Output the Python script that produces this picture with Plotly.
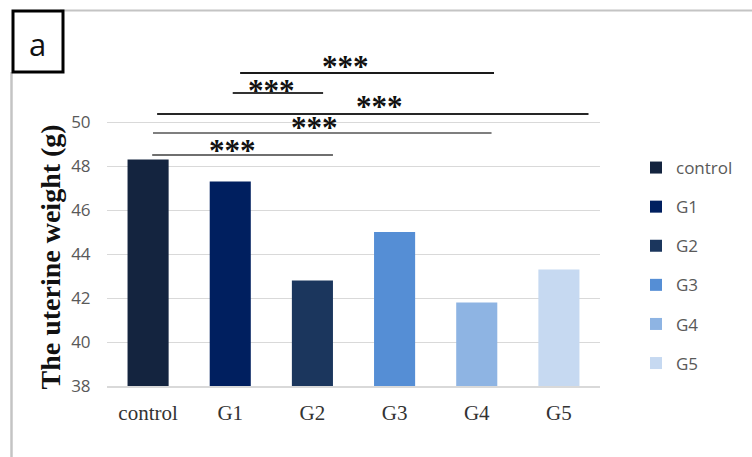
import plotly.graph_objects as go

# Uterine weight per group (g)
groups = ["control", "G1", "G2", "G3", "G4", "G5"]
weights = [48.3, 47.3, 42.8, 45.0, 41.8, 43.3]
bar_colors = ["#14243f", "#001f5f", "#1b365d", "#558ed5", "#8eb4e3", "#c6d9f1"]

y_ticks = [38, 40, 42, 44, 46, 48, 50]
y_title = "The uterine weight (g)"

# Significance comparisons (group pairs) and their labels
sig_pairs = [("G1", "G4"), ("G1", "G2"), ("control", "G5"), ("control", "G4"), ("control", "G2")]
sig_labels = ["***", "***", "***", "***", "***"]
# bracket geometry: left/right offsets from the group positions, bracket height,
# label position (x, y) and line colour
sig_geom = [
    (0.12, 0.21, 52.23, 2.40, 52.70, "#1a1a1a"),
    (0.03, 0.13, 51.32, 1.50, 51.58, "#333333"),
    (0.11, 0.36, 50.36, 2.82, 50.88, "#262626"),
    (0.06, 0.18, 49.50, 2.02, 49.91, "#7f7f7f"),
    (0.05, 0.25, 48.50, 1.03, 48.88, "#6f6f6f"),
]

# plot area in pixels (for decoration placement)
W, H = 752, 457
L, R, T, B = 107, 600, 56, 386


def px(x):
    return (x - L) / (R - L)


def py(y):
    return (B - y) / (B - T)


fig = go.Figure()
for g, w, c in zip(groups, weights, bar_colors):
    fig.add_trace(go.Bar(
        x=[g], y=[w], name=g, marker=dict(color=c, line=dict(width=0)),
        width=0.5, legendgroup=g,
    ))

shapes = []
annotations = []
for (a, b), lab, (o0, o1, yh, xl, yl, col) in zip(sig_pairs, sig_labels, sig_geom):
    i0, i1 = groups.index(a), groups.index(b)
    shapes.append(dict(type="line", xref="x", yref="y", x0=i0 + o0, x1=i1 + o1,
                       y0=yh, y1=yh, line=dict(color=col, width=2)))
    annotations.append(dict(x=xl, y=yl, xref="x", yref="y", text=f"<b>{lab}</b>",
                            showarrow=False, yanchor="bottom", yshift=-23,
                            font=dict(family="Liberation Serif", size=31, color="#111111")))

# frame around the panel
shapes.append(dict(type="line", xref="paper", yref="paper", x0=px(60), x1=px(W), y0=py(10.5), y1=py(10.5),
                   line=dict(color="#c4c4c4", width=2)))
shapes.append(dict(type="line", xref="paper", yref="paper", x0=px(11.5), x1=px(11.5), y0=py(72), y1=py(H),
                   line=dict(color="#c4c4c4", width=2.5)))
shapes.append(dict(type="rect", xref="paper", yref="paper", x0=px(13), x1=px(63), y0=py(72), y1=py(11),
                   line=dict(color="#000000", width=3), fillcolor="white"))
annotations.append(dict(x=px(37), y=py(44), xref="paper", yref="paper", text="a", showarrow=False,
                        xanchor="center", yanchor="middle",
                        font=dict(family="Open Sans", size=31, color="#111111")))

# y-axis title, centred on the gridded range
annotations.append(dict(x=px(50), y=py(257.5), xref="paper", yref="paper", text=f"<b>{y_title}</b>",
                        textangle=-90, showarrow=False, xanchor="center", yanchor="middle",
                        font=dict(family="Liberation Serif", size=28, color="#111111")))

fig.update_layout(
    width=W, height=H,
    margin=dict(l=L, r=W - R, t=T, b=H - B, autoexpand=False),
    paper_bgcolor="white", plot_bgcolor="white",
    barmode="overlay",
    showlegend=True,
    legend=dict(x=px(636), y=py(150), xanchor="left", yanchor="top",
                font=dict(family="Open Sans", size=17, color="#595959"),
                tracegroupgap=14, itemwidth=30, bgcolor="rgba(0,0,0,0)"),
    shapes=shapes,
    annotations=annotations,
)
fig.update_xaxes(
    type="category", categoryorder="array", categoryarray=groups,
    showline=True, linecolor="#d9d9d9", linewidth=1.5,
    ticks="outside", ticklen=7, tickcolor="rgba(0,0,0,0)",
    tickfont=dict(family="Liberation Serif", size=21, color="#333333"),
    showgrid=False, range=[-0.5, 5.5],
)
fig.update_yaxes(
    range=[38, 53], tickvals=y_ticks,
    showgrid=True, gridcolor="#d9d9d9", gridwidth=1,
    zeroline=False, showline=False,
    ticks="outside", ticklen=12, tickcolor="rgba(0,0,0,0)",
    tickfont=dict(family="Open Sans", size=17, color="#595959"),
)

fig.write_html("out.html")
